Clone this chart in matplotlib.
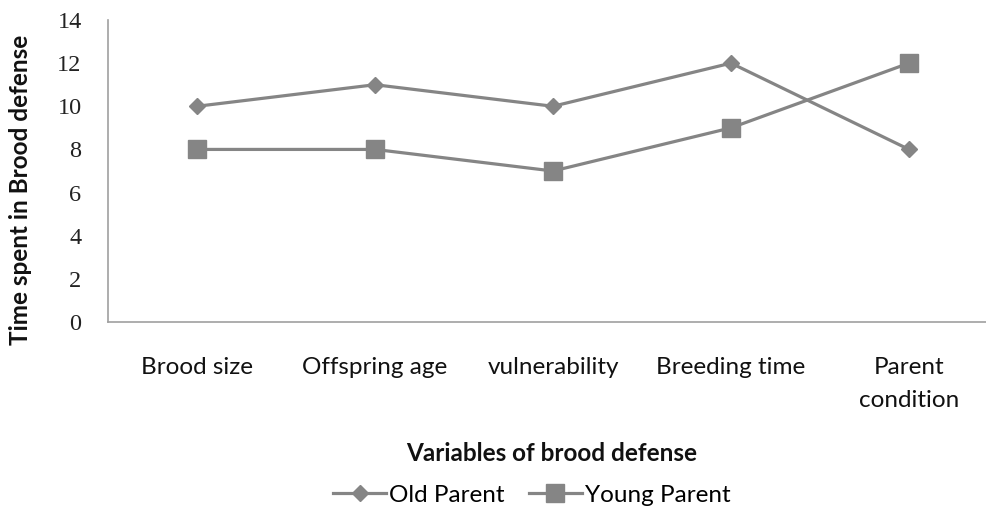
import matplotlib
matplotlib.use('Agg')
import matplotlib.pyplot as plt

# Chart data
categories = ['Brood size', 'Offspring age', 'vulnerability', 'Breeding time', 'Parent\ncondition']
old_parent = [10, 11, 10, 12, 8]
young_parent = [8, 8, 7, 9, 12]
y_ticks = [0, 2, 4, 6, 8, 10, 12, 14]

plt.rcParams['font.family'] = ['Lato', 'DejaVu Sans']

fig = plt.figure(figsize=(9.87, 5.12), dpi=100)
ax = fig.add_axes([108 / 987, 190 / 512, 890 / 987, 302 / 512])

grey = '#858585'
x = list(range(len(categories)))
ax.plot(x, old_parent, color=grey, lw=2.3, marker='D', ms=8.5, label='Old Parent')
ax.plot(x, young_parent, color=grey, lw=2.3, marker='s', ms=13.5, label='Young Parent')

ax.set_xlim(-0.5, 4.5)
ax.set_ylim(0, 14)
ax.set_yticks(y_ticks)
ax.set_yticklabels([str(v) for v in y_ticks], family='Liberation Serif', fontsize=17.5, color='#222222')
ax.set_xticks(x)
ax.set_xticklabels(categories, fontsize=17.5, color='#111111', linespacing=1.75)
ax.tick_params(axis='both', length=0)
ax.tick_params(axis='x', pad=25)
ax.tick_params(axis='y', pad=19)

for side in ['top', 'right']:
    ax.spines[side].set_visible(False)
for side in ['left', 'bottom']:
    ax.spines[side].set_color('#a0a0a0')
    ax.spines[side].set_linewidth(1.2)

ax.set_ylabel('Time spent in Brood defense', fontsize=17.5, fontweight='bold', color='#111111')
ax.yaxis.set_label_coords(-0.085, 0.437)
ax.set_xlabel('Variables of brood defense', fontsize=17.5, fontweight='bold', color='#111111')
ax.xaxis.set_label_coords(0.499, -0.397)

ax.legend(loc='center', bbox_to_anchor=(0.476, -0.573), ncol=2, frameon=False,
          fontsize=17.5, handlelength=2.2, columnspacing=1.0, handletextpad=0.1)

fig.savefig('out.png', dpi=100)
